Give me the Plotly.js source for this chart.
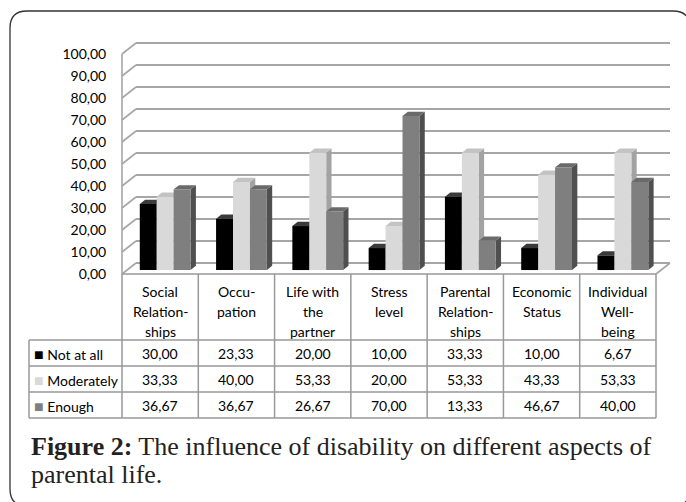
<!DOCTYPE html>
<html><head><meta charset="utf-8">
<script src="https://cdn.plot.ly/plotly-3.0.1.min.js"></script>
<style>html,body{margin:0;padding:0;background:#fff}</style>
</head><body>
<div id="chart" style="width:686px;height:502px"></div>
<script>
// ---------------- data ----------------
const categories = ['Social<br>Relation-<br>ships', 'Occu-<br>pation', 'Life with<br>the<br>partner', 'Stress<br>level', 'Parental<br>Relation-<br>ships', 'Economic<br>Status', 'Individual<br>Well-<br>being'];
const seriesNames = ['Not at all', 'Moderately', 'Enough'];
const notAtAll   = [30.00, 23.33, 20.00, 10.00, 33.33, 10.00, 6.67];
const moderately = [33.33, 40.00, 53.33, 20.00, 53.33, 43.33, 53.33];
const enough     = [36.67, 36.67, 26.67, 70.00, 13.33, 46.67, 40.00];
const yTicks = [0, 10, 20, 30, 40, 50, 60, 70, 80, 90, 100];
const captionBold = 'Figure 2:';
const captionLine1 = 'The influence of disability on different aspects of';
const captionLine2 = 'parental life.';

// ---------------- style ----------------
const frontColors = ['#000000', '#d9d9d9', '#7f7f7f'];
const topColors   = ['#3a3a3a', '#c3c3c3', '#6a6a6a'];
const sideColors  = ['#1c1c1c', '#a3a3a3', '#4f4f4f'];
const gridColor = '#a6a6a6';
const tableLine = '#999999';
const sansFont = 'Lato, "Open Sans", sans-serif';
const serifFont = '"Liberation Serif", "DejaVu Serif", serif';
const textFont = {family: sansFont, size: 14, color: '#000'};

const W = 686, H = 502;
const X0 = 122, X1 = 656, Y0 = 274, Y100 = 54, DX = 14, DY = 11;
const TX0 = 29, HEADER_H = 66, ROW_H = 26, HEAD_LINE0 = 291, HEAD_LINE_GAP = 20;
const BW = 0.222, F1 = 0.36, DD = 0.38;

const seriesValues = [notAtAll, moderately, enough];
const nCat = categories.length;
const pxCat = (X1 - X0) / nCat;
const pxVal = (Y0 - Y100) / 100;
const dxu = DX / pxCat, dyu = DY / pxVal;
const padL = 2, padR = 4, padT = 4, padB = 2;
const yMax = yTicks[yTicks.length - 1];

const px2x = p => p / W;
const py2y = p => 1 - p / H;

// ---------------- bars (front faces) ----------------
const traces = [];
seriesValues.forEach((vals, s) => {
  traces.push({
    type: 'bar',
    name: seriesNames[s],
    x: vals.map((v, i) => i + (s - 1) * BW + F1 * dxu),
    y: vals,
    base: vals.map(() => F1 * dyu),
    width: BW,
    marker: {color: frontColors[s], line: {width: 0}},
    showlegend: false,
    hoverinfo: 'skip'
  });
});

const shapes = [];
const annotations = [];

// ---------------- 3D walls (data coords) ----------------
const xL = -0.5, xR = nCat - 0.5;
yTicks.forEach(v => {
  shapes.push({type: 'line', xref: 'x', yref: 'y', layer: 'below',
    x0: xL + dxu, y0: v + dyu, x1: xR + dxu, y1: v + dyu, line: {color: gridColor, width: 1.8}});
  shapes.push({type: 'line', xref: 'x', yref: 'y', layer: 'below',
    x0: xL, y0: v, x1: xL + dxu, y1: v + dyu, line: {color: gridColor, width: 1.6}});
});
shapes.push({type: 'line', xref: 'x', yref: 'y', layer: 'below',
  x0: xL, y0: 0, x1: xL, y1: yMax, line: {color: gridColor, width: 1.6}});
shapes.push({type: 'line', xref: 'x', yref: 'y', layer: 'below',
  x0: xR, y0: 0, x1: xR + dxu, y1: dyu, line: {color: gridColor, width: 1.6}});

// ---------------- bar side & top faces ----------------
seriesValues.forEach((vals, s) => {
  vals.forEach((v, i) => {
    const xl = i + (s - 1) * BW + F1 * dxu - BW / 2, xr = xl + BW;
    const b = F1 * dyu, ddx = DD * dxu, ddy = DD * dyu;
    shapes.push({type: 'path', xref: 'x', yref: 'y', layer: 'between', line: {width: 0},
      fillcolor: sideColors[s],
      path: `M${xr},${b} L${xr + ddx},${b + ddy} L${xr + ddx},${b + v + ddy} L${xr},${b + v} Z`});
    shapes.push({type: 'path', xref: 'x', yref: 'y', layer: 'between', line: {width: 0},
      fillcolor: topColors[s],
      path: `M${xl},${b + v} L${xr},${b + v} L${xr + ddx},${b + v + ddy} L${xl + ddx},${b + v + ddy} Z`});
  });
});

// ---------------- data table (grid + texts) ----------------
const colEdges = [TX0];
for (let k = 0; k <= nCat; k++) colEdges.push(X0 + k * pxCat);
const rowEdges = [Y0, Y0 + HEADER_H];
seriesNames.forEach((n, s) => rowEdges.push(Y0 + HEADER_H + (s + 1) * ROW_H));
const tBottom = rowEdges[rowEdges.length - 1];
const pline = (x0, y0, x1, y1) => shapes.push({type: 'line', xref: 'paper', yref: 'paper', layer: 'above',
  x0: px2x(x0), y0: py2y(y0), x1: px2x(x1), y1: py2y(y1), line: {color: tableLine, width: 1.5}});
pline(X0, Y0, X1, Y0);
rowEdges.slice(1).forEach(y => pline(TX0, y, X1, y));
pline(TX0, Y0 + HEADER_H, TX0, tBottom);
colEdges.slice(1).forEach(x => pline(x, Y0, x, tBottom));

const fmt = v => v.toFixed(2).replace('.', ',');
categories.forEach((c, i) => {
  const cx = (colEdges[i + 1] + colEdges[i + 2]) / 2;
  c.split('<br>').forEach((line, k) => {
    annotations.push({xref: 'paper', yref: 'paper', x: px2x(cx), y: py2y(HEAD_LINE0 + k * HEAD_LINE_GAP),
      xanchor: 'center', yanchor: 'middle', showarrow: false, text: line, font: textFont});
  });
  seriesValues.forEach((vals, s) => {
    annotations.push({xref: 'paper', yref: 'paper', x: px2x(cx), y: py2y((rowEdges[s + 1] + rowEdges[s + 2]) / 2),
      xanchor: 'center', yanchor: 'middle', showarrow: false, text: fmt(vals[i]), font: textFont});
  });
});
seriesNames.forEach((n, s) => {
  annotations.push({xref: 'paper', yref: 'paper', x: px2x(TX0 + 3), y: py2y((rowEdges[s + 1] + rowEdges[s + 2]) / 2),
    xanchor: 'left', yanchor: 'middle', showarrow: false, font: textFont,
    text: `<span style="color:${frontColors[s]};font-size:16px">■</span> ${n}`});
});

// ---------------- outer rounded frame ----------------
const fx0 = 10, fy0 = 11, fx1 = 690, fy1 = 506, r = 17;
shapes.push({type: 'path', xref: 'paper', yref: 'paper', layer: 'above',
  line: {color: '#333333', width: 1.3},
  path: `M${px2x(fx0)},${py2y(fy0 + r)} Q${px2x(fx0)},${py2y(fy0)} ${px2x(fx0 + r)},${py2y(fy0)} ` +
        `L${px2x(fx1 - r)},${py2y(fy0)} Q${px2x(fx1)},${py2y(fy0)} ${px2x(fx1)},${py2y(fy0 + r)} ` +
        `L${px2x(fx1)},${py2y(fy1 - r)} Q${px2x(fx1)},${py2y(fy1)} ${px2x(fx1 - r)},${py2y(fy1)} ` +
        `L${px2x(fx0 + r)},${py2y(fy1)} Q${px2x(fx0)},${py2y(fy1)} ${px2x(fx0)},${py2y(fy1 - r)} Z`});

// ---------------- caption ----------------
const capFont = {family: serifFont, size: 26, color: '#222'};
annotations.push(
  {xref: 'paper', yref: 'paper', x: px2x(29), y: py2y(446), xanchor: 'left', yanchor: 'middle',
   showarrow: false, align: 'left', font: capFont, text: `<b>${captionBold}</b> ${captionLine1}`},
  {xref: 'paper', yref: 'paper', x: px2x(29), y: py2y(474), xanchor: 'left', yanchor: 'middle',
   showarrow: false, align: 'left', font: capFont, text: captionLine2}
);

const layout = {
  width: W, height: H,
  margin: {l: 0, r: 0, t: 0, b: 0},
  paper_bgcolor: '#ffffff', plot_bgcolor: 'rgba(0,0,0,0)',
  separators: ', ',
  barmode: 'overlay',
  showlegend: false,
  xaxis: {
    domain: [px2x(X0 - padL), px2x(X1 + DX + padR)],
    range: [xL - padL / pxCat, xR + (DX + padR) / pxCat],
    showgrid: false, zeroline: false, showline: false, showticklabels: false, ticks: '', fixedrange: true
  },
  yaxis: {
    domain: [py2y(Y0 + padB), py2y(Y100 - DY - padT)],
    range: [-padB / pxVal, yMax + (DY + padT) / pxVal],
    tickvals: yTicks, tickformat: '.2f',
    showgrid: false, zeroline: false, showline: false,
    ticks: 'outside', ticklen: 10, tickcolor: 'rgba(0,0,0,0)',
    tickfont: textFont,
    fixedrange: true
  },
  shapes: shapes,
  annotations: annotations
};

Plotly.newPlot('chart', traces, layout, {staticPlot: true, displayModeBar: false});
</script>
</body></html>
